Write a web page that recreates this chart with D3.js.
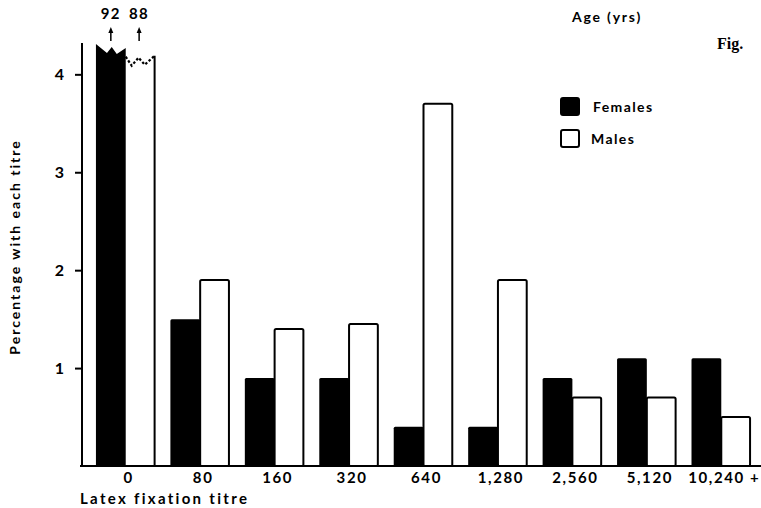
<!DOCTYPE html>
<html>
<head>
<meta charset="utf-8">
<script src="https://cdn.jsdelivr.net/npm/d3@7"></script>
<style>
	body { margin: 0; background: #fff; }
	svg { display: block; }
	text { font-family: Lato, "DejaVu Sans", sans-serif; font-weight: 700; fill: #000; }
	.tick line { stroke: #000; stroke-width: 2; }
</style>
</head>
<body>
<svg width="761" height="508"></svg>
<script>
let categories = ['0', '80', '160', '320', '640', '1,280', '2,560', '5,120', '10,240 +'];
let females = [92, 1.5, 0.9, 0.9, 0.4, 0.4, 0.9, 1.1, 1.1];
let males = [88, 1.9, 1.4, 1.45, 3.7, 1.9, 0.7, 0.7, 0.5];
let series = ['Females', 'Males'];
let yTicks = [1, 2, 3, 4];
// where the off-scale bars are cut
let breakAt = { Females: 4.31, Males: 4.18 };

let svg = d3.select('svg'),
		width = +svg.attr('width'),
		height = +svg.attr('height');

const x = d3.scaleBand()
	.domain(categories)
	.range([88.5, 758.5])
	.paddingInner(0.2)
	.paddingOuter(0.1);

const xs = d3.scaleBand()
	.domain(series)
	.range([0, x.bandwidth()]);

const y = d3.scaleLinear()
	.domain([0, 4.32])
	.range([466, 43]);

let rows = [];
categories.forEach((c, i) => {
	rows.push({ cat: c, key: 'Females', value: females[i] });
	rows.push({ cat: c, key: 'Males', value: males[i] });
});

// ordinary bars
let normal = rows.filter(d => d.value <= y.domain()[1]);
svg.append('g')
	.selectAll('rect')
	.data(normal)
	.enter().append('rect')
		.attr('x', d => x(d.cat) + xs(d.key))
		.attr('y', d => y(d.value))
		.attr('width', d => xs.bandwidth() - (d.key === 'Males' ? 1 : 0))
		.attr('height', d => y(0) - y(d.value))
		.attr('fill', d => d.key === 'Females' ? '#000' : '#fff')
		.attr('stroke', '#000')
		.attr('stroke-width', d => d.key === 'Females' ? 0 : 2)
		.attr('rx', 1.5);

// broken bars (off the scale)
let broken = rows.filter(d => d.value > y.domain()[1]);
let zigF = [[0, 0], [0.37, 9], [0.53, 3], [0.7, 10], [1, 4]];
let zigM = [[0, 0], [0.2, 9], [0.43, 1], [0.64, 8], [0.97, -1]];

broken.forEach(d => {
	let x0 = x(d.cat) + xs(d.key);
	let w = xs.bandwidth();
	let top = y(breakAt[d.key]);
	let zig = d.key === 'Females' ? zigF : zigM;
	let pts = zig.map(p => [x0 + p[0] * w, top + p[1]]);
	if (d.key === 'Females') {
		let poly = [[x0, y(0)]].concat(pts).concat([[x0 + w, y(0)]]);
		svg.append('path')
			.attr('d', d3.line()(poly) + 'Z')
			.attr('fill', '#000');
	} else {
		svg.append('path')
			.attr('d', d3.line()([[x0 + 0.97 * w, y(0)], pts[pts.length - 1]]))
			.attr('fill', 'none').attr('stroke', '#000').attr('stroke-width', 2);
		svg.append('path')
			.attr('d', d3.line()(pts))
			.attr('fill', 'none').attr('stroke', '#000').attr('stroke-width', 2.2)
			.attr('stroke-dasharray', '2.5,2');
	}
	// arrow and real value
	let cx = x0 + (d.key === 'Females' ? 0.5 : 0.45) * w;
	svg.append('line')
		.attr('x1', cx).attr('x2', cx)
		.attr('y1', 41).attr('y2', 31)
		.attr('stroke', '#000').attr('stroke-width', 1.5);
	svg.append('path')
		.attr('d', d3.line()([[cx - 2.5, 33], [cx, 27], [cx + 2.5, 33]]) + 'Z')
		.attr('fill', '#000');
	svg.append('text')
		.attr('x', cx).attr('y', 19)
		.attr('text-anchor', 'middle')
		.attr('font-size', 15)
		.attr('letter-spacing', 1.5)
		.text(d.value);
});

// y axis
svg.append('line')
	.attr('x1', 82).attr('x2', 82)
	.attr('y1', y.range()[1]).attr('y2', y(0))
	.attr('stroke', '#000').attr('stroke-width', 2);

const yAxis = svg.append('g')
	.attr('transform', 'translate(82,0)')
	.call(d3.axisLeft(y).tickValues(yTicks).tickSize(7).tickPadding(11).tickFormat(d3.format('d')));
yAxis.select('.domain').remove();
yAxis.selectAll('text')
	.attr('font-size', 16)
	.style('font-family', 'Lato, "DejaVu Sans", sans-serif')
	.style('font-weight', 700);

// baseline
svg.append('line')
	.attr('x1', 80).attr('x2', width)
	.attr('y1', y(0)).attr('y2', y(0))
	.attr('stroke', '#000').attr('stroke-width', 2);

const xAxis = svg.append('g')
	.attr('transform', 'translate(0,' + y(0) + ')')
	.call(d3.axisBottom(x).tickSize(0).tickPadding(6));
xAxis.select('.domain').remove();
xAxis.selectAll('text')
	.attr('font-size', 15)
	.attr('letter-spacing', 1.6)
	.attr('dx', 3)
	.style('font-family', 'Lato, "DejaVu Sans", sans-serif')
	.style('font-weight', 700);

svg.append('text')
	.attr('x', 80).attr('y', 504)
	.attr('font-size', 15)
	.attr('letter-spacing', 2.3)
	.text('Latex fixation titre');

svg.append('text')
	.attr('transform', 'translate(20,247) rotate(-90)')
	.attr('text-anchor', 'middle')
	.attr('font-size', 14)
	.attr('letter-spacing', 2)
	.text('Percentage with each titre');

// legend
const legend = svg.append('g')
	.selectAll('g')
	.data(series)
	.enter().append('g')
		.attr('transform', (d, i) => 'translate(561,' + (98 + i * 32) + ')');
legend.append('rect')
	.attr('width', 18).attr('height', 17).attr('rx', 2)
	.attr('fill', d => d === 'Females' ? '#000' : '#fff')
	.attr('stroke', '#000').attr('stroke-width', 2);
legend.append('text')
	.attr('x', d => d === 'Females' ? 32 : 30)
	.attr('y', 14)
	.attr('font-size', 14)
	.attr('letter-spacing', 1.4)
	.text(d => d);

svg.append('text')
	.attr('x', 572).attr('y', 22)
	.attr('font-size', 14)
	.attr('letter-spacing', 1.8)
	.text('Age (yrs)');

svg.append('text')
	.attr('x', 717).attr('y', 49)
	.attr('font-size', 16)
	.style('font-family', '"Liberation Serif", serif')
	.text('Fig.');
</script>
</body>
</html>
